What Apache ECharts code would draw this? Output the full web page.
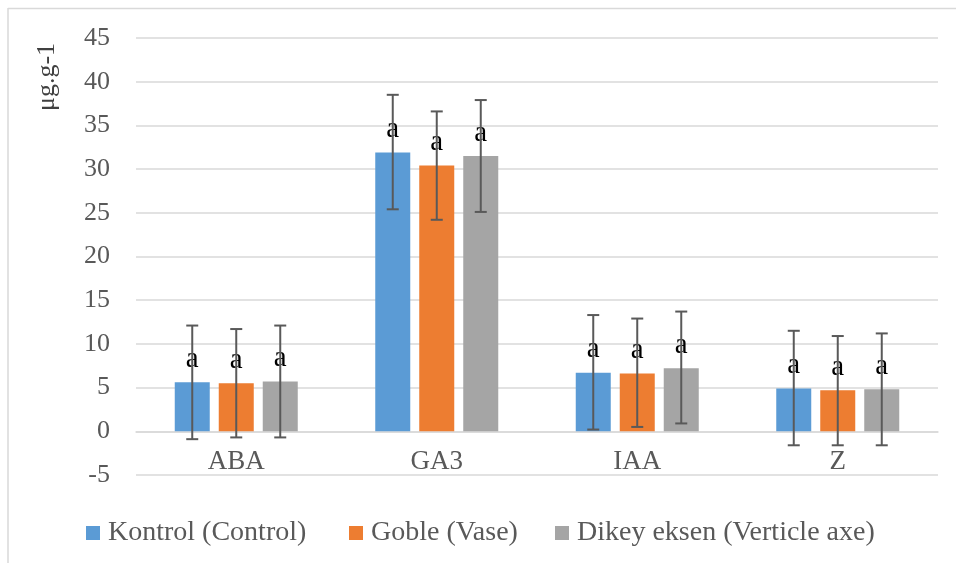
<!DOCTYPE html>
<html>
<head>
<meta charset="utf-8">
<script src="https://cdn.jsdelivr.net/npm/echarts@6/dist/echarts.min.js"></script>
<style>
html,body{margin:0;padding:0;background:#fff;}
#chart{width:956px;height:563px;}
</style>
</head>
<body>
<div id="chart"></div>
<script>
const categories = ['ABA', 'GA3', 'IAA', 'Z'];
const seriesNames = ['Kontrol (Control)', 'Goble (Vase)', 'Dikey eksen (Verticle axe)'];
const kontrol = [5.6, 31.9, 6.7, 4.9];
const goble = [5.5, 30.4, 6.6, 4.7];
const dikey = [5.7, 31.5, 7.2, 4.8];
const kontrolHigh = [12.1, 38.5, 13.3, 11.5];
const kontrolLow = [-0.9, 25.4, 0.2, -1.6];
const gobleHigh = [11.7, 36.6, 12.9, 10.9];
const gobleLow = [-0.7, 24.2, 0.5, -1.6];
const dikeyHigh = [12.1, 37.9, 13.7, 11.2];
const dikeyLow = [-0.7, 25.1, 0.9, -1.6];
const letters = ['a', 'a', 'a', 'a'];
const yTicks = { min: -5, max: 45, interval: 5 };
const yName = 'μg.g-1';

const colors = ['#5B9BD5', '#ED7D31', '#A5A5A5'];
const values = [kontrol, goble, dikey];
const highs = [kontrolHigh, gobleHigh, dikeyHigh];
const lows = [kontrolLow, gobleLow, dikeyLow];
const FONT = '"Liberation Serif", "DejaVu Serif", serif';
const BAR_W = 35, BAR_GAP = 9;
const GRID = { left: 136, right: 18, top: 38, bottom: 88 };
const PLOT_H = 563 - GRID.top - GRID.bottom;

const chart = echarts.init(document.getElementById('chart'));

const barSeries = values.map((vals, i) => ({
  name: seriesNames[i],
  type: 'bar',
  data: vals,
  barWidth: BAR_W,
  barGap: (BAR_GAP / BAR_W * 100) + '%',
  itemStyle: { color: colors[i] },
  label: {
    show: true,
    position: 'top',
    distance: 9,
    formatter: p => letters[p.dataIndex],
    color: '#000',
    fontFamily: FONT,
    fontSize: 29,
    lineHeight: 28
  },
  z: 2
}));

const errSeries = values.map((vals, i) => ({
  name: seriesNames[i] + ' err',
  type: 'custom',
  data: categories.map((c, k) => [k, lows[i][k], highs[i][k]]),
  encode: { x: 0, y: [1, 2] },
  renderItem: function (params, api) {
    const k = api.value(0);
    const lo = api.coord([k, api.value(1)]);
    const hi = api.coord([k, api.value(2)]);
    const x = lo[0] + (i - 1) * (BAR_W + BAR_GAP);
    const cap = 6;
    const st = { stroke: '#595959', lineWidth: 2 };
    return {
      type: 'group',
      children: [
        { type: 'line', shape: { x1: x, y1: hi[1], x2: x, y2: lo[1] }, style: st },
        { type: 'line', shape: { x1: x - cap, y1: hi[1], x2: x + cap, y2: hi[1] }, style: st },
        { type: 'line', shape: { x1: x - cap, y1: lo[1], x2: x + cap, y2: lo[1] }, style: st }
      ]
    };
  },
  z: 3,
  silent: true
}));

const legendLefts = [81, 344, 550];
const legends = seriesNames.map((n, i) => ({
  data: [n],
  left: legendLefts[i],
  top: 514,
  itemWidth: 14,
  itemHeight: 14,
  icon: 'rect',
  textStyle: { fontFamily: FONT, fontSize: 28, color: '#595959', padding: [0, 0, 0, 3] },
  selectedMode: false
}));

// distance (px) from the bottom of the grid (at yTicks.min) up to value 0
const zeroOffset = PLOT_H * (0 - yTicks.min) / (yTicks.max - yTicks.min);

chart.setOption({
  animation: false,
  backgroundColor: '#fff',
  grid: { left: GRID.left, right: GRID.right, top: GRID.top, bottom: GRID.bottom, containLabel: false },
  legend: legends,
  xAxis: {
    type: 'category',
    data: categories,
    position: 'bottom',
    offset: -zeroOffset,
    axisLine: { onZero: false, lineStyle: { color: '#d9d9d9', width: 1.5 } },
    axisTick: { show: false },
    axisLabel: { margin: 17, fontFamily: FONT, fontSize: 27, color: '#595959' }
  },
  yAxis: {
    type: 'value',
    min: yTicks.min,
    max: yTicks.max,
    interval: yTicks.interval,
    axisLine: { show: false },
    axisTick: { show: false },
    axisLabel: { margin: 26, fontFamily: FONT, fontSize: 26, color: '#595959' },
    splitLine: { lineStyle: { color: '#d9d9d9', width: 1.5 } }
  },
  graphic: [
    { type: 'line', shape: { x1: 8, y1: 8.5, x2: 956, y2: 8.5 }, style: { stroke: '#d9d9d9', lineWidth: 1.5 } },
    { type: 'line', shape: { x1: 8, y1: 8, x2: 8, y2: 563 }, style: { stroke: '#d9d9d9', lineWidth: 1.5 } },
    {
      type: 'text', x: 47, y: 77, rotation: Math.PI / 2,
      style: { text: yName, fontFamily: FONT, fontSize: 26, fill: '#404040', align: 'center', verticalAlign: 'middle' }
    }
  ],
  series: [...barSeries, ...errSeries]
});
</script>
</body>
</html>
